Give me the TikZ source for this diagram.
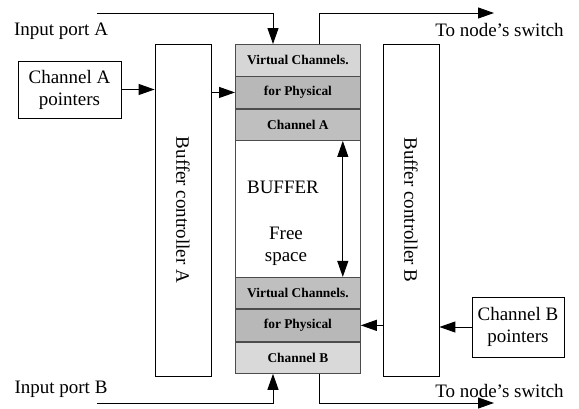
\documentclass[tikz,border=0pt]{standalone}
\usepackage{fontspec}
\setmainfont{Liberation Serif}
\usepackage{tikz}
\usetikzlibrary{positioning,arrows.meta}

\begin{document}
\begin{tikzpicture}[
			x=1pt, y=-1pt,
			node distance={0pt},
			>={Triangle[length=16pt,width=11pt]},
			every node/.style = {font=\fontsize{19}{22}\selectfont, align=center},
			ptr/.style = {draw, line width=0.8pt, inner sep=0pt},
			ctrl/.style = {draw, line width=0.8pt, minimum width=56pt, minimum height=332pt},
			vc/.style = {draw=black!70, line width=0.8pt, minimum width=125pt, minimum height=31.5pt,
				inner sep=0pt, font=\fontsize{13.4}{15}\selectfont\bfseries},
			wire/.style = {line width=1pt}
		]
		\useasboundingbox (0,0) rectangle (579,408);
		% buffer column
		\node[draw=black!70, line width=0.8pt, minimum width=125pt, minimum height=329pt, anchor=north west] (buf) at (235,44) {};
		\node[vc, fill=black!16, anchor=north west] (r1) at (buf.north west) {Virtual Channels.};
		\node[vc, fill=black!28] (r2) [below=of r1] {for Physical};
		\node[vc, fill=black!25] (r3) [below=of r2] {Channel A};
		\node[vc, fill=black!15, anchor=south west] (s3) at (buf.south west) {Channel B};
		\node[vc, fill=black!28] (s2) [above=of s3] {for Physical};
		\node[vc, fill=black!25] (s1) [above=of s2] {Virtual Channels.};
		\node (bufl) at (283,187) {BUFFER};
		\node (free) at (286,246) {Free\\space};
		% controllers
		\node[ctrl] (ctrlA) at (183,210) {};
		\node[rotate=-90] (lblA) at (ctrlA) {Buffer controller A};
		\node[ctrl] (ctrlB) at (411,210) {};
		\node[rotate=-90] (lblB) at (ctrlB) {Buffer controller B};
		% pointers
		\node[ptr, minimum width=103pt, minimum height=57pt] (ptrA) at (69.5,89.5) {Channel A\\pointers};
		\node[ptr, minimum width=92pt, minimum height=60pt] (ptrB) at (518,327) {Channel B\\pointers};
		% ports
		\node (inAl) at (61,31) {Input port A};
		\node (inBl) at (61,389) {Input port B};
		\node (outAl) at (499.5,30) {To node's switch};
		\node (outBl) at (499.5,391) {To node's switch};
		\coordinate (inA) at (97,13);
		\coordinate (inB) at (97,403);
		\coordinate (outA) at (494,13);
		\coordinate (outB) at (494,403);
		% connectors
		\draw[wire, ->] (ptrA.east) -- (ptrA.east -| ctrlA.west);
		\draw[wire, ->] (ctrlA.east |- r2) -- (r2.west);
		\draw[wire, ->] (ptrB.west) -- (ptrB.west -| ctrlB.east);
		\draw[wire, ->] (ctrlB.west |- s2) -- (s2.east);
		\draw[wire, ->] (inA) -| ([xshift=38pt]r1.north west);
		\draw[wire, ->] (inB) -| ([xshift=38pt]s3.south west);
		\draw[wire, ->] ([xshift=-41pt]r1.north east) |- (outA);
		\draw[wire, ->] ([xshift=-41pt]s3.south east) |- (outB);
		\draw[wire, <->] ([xshift=-18pt]r3.south east) -- ([xshift=-18pt]s1.north east);
	\end{tikzpicture}
\end{document}
